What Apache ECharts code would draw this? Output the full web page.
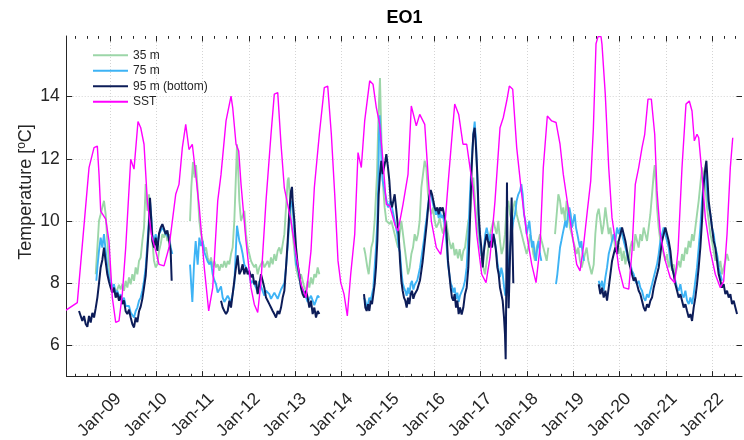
<!DOCTYPE html>
<html><head><meta charset="utf-8">
<script src="https://cdn.jsdelivr.net/npm/echarts@6/dist/echarts.min.js"></script>
<style>html,body{margin:0;padding:0;background:#fff}#c{width:744px;height:440px}</style>
</head><body><div id="c"></div>
<script>
const yearTicks = [2009,2010,2011,2012,2013,2014,2015,2016,2017,2018,2019,2020,2021,2022];
const tickLabels = ['Jan-09','Jan-10','Jan-11','Jan-12','Jan-13','Jan-14','Jan-15','Jan-16','Jan-17','Jan-18','Jan-19','Jan-20','Jan-21','Jan-22'];
const yTicks = [6,8,10,12,14];
const seriesNames = ['35 m','75 m','95 m (bottom)','SST'];

const sst = [[2008.044,7.13],[2008.294,7.38],[2008.547,11.72],[2008.655,12.36],[2008.726,12.41],[2008.763,11.5],[2008.799,10.32],[2008.907,10.06],[2008.978,9.36],[2009.050,7.54],[2009.123,6.74],[2009.194,6.79],[2009.265,7.65],[2009.339,9.15],[2009.447,11.99],[2009.518,11.67],[2009.604,13.2],[2009.663,13.0],[2009.734,12.47],[2009.805,10.65],[2009.891,9.58],[2009.986,9.04],[2010.058,8.61],[2010.166,8.56],[2010.273,9.15],[2010.345,10.0],[2010.418,10.86],[2010.489,11.18],[2010.561,12.36],[2010.634,13.11],[2010.705,12.3],[2010.776,12.47],[2010.850,11.5],[2010.927,10.43],[2011.035,8.5],[2011.130,7.11],[2011.217,7.86],[2011.325,10.65],[2011.396,11.5],[2011.504,13.22],[2011.612,14.02],[2011.648,13.65],[2011.720,12.47],[2011.778,12.25],[2011.828,11.18],[2011.935,9.36],[2012.043,7.86],[2012.115,7.32],[2012.188,7.06],[2012.259,8.07],[2012.367,10.65],[2012.475,12.79],[2012.546,14.08],[2012.620,14.13],[2012.691,12.47],[2012.762,11.07],[2012.907,10.0],[2013.015,8.93],[2013.123,7.97],[2013.230,7.54],[2013.338,9.04],[2013.410,11.07],[2013.518,12.79],[2013.625,14.29],[2013.699,14.34],[2013.777,12.79],[2013.850,10.86],[2013.921,8.72],[2013.980,8.02],[2014.051,7.65],[2014.122,6.95],[2014.195,8.29],[2014.282,9.58],[2014.353,12.2],[2014.424,11.72],[2014.497,13.22],[2014.605,14.51],[2014.677,14.4],[2014.748,13.65],[2014.821,13.11],[2014.892,11.93],[2014.964,10.54],[2015.037,10.49],[2015.145,9.9],[2015.216,9.68],[2015.324,10.54],[2015.432,11.5],[2015.503,13.7],[2015.611,13.06],[2015.685,13.43],[2015.793,13.11],[2015.864,11.5],[2015.935,10.0],[2016.043,9.15],[2016.138,8.93],[2016.224,9.79],[2016.296,11.18],[2016.367,12.47],[2016.440,13.76],[2016.526,13.43],[2016.619,12.47],[2016.699,12.47],[2016.770,11.72],[2016.842,10.97],[2016.915,9.58],[2017.023,8.29],[2017.116,8.02],[2017.202,8.83],[2017.310,10.65],[2017.418,13.0],[2017.489,13.33],[2017.562,13.86],[2017.619,14.34],[2017.692,14.24],[2017.778,12.36],[2017.886,10.86],[2017.994,9.58],[2018.102,8.61],[2018.195,8.02],[2018.281,9.15],[2018.352,11.72],[2018.439,13.38],[2018.534,13.22],[2018.627,13.17],[2018.713,12.47],[2018.784,11.5],[2018.858,10.75],[2018.966,9.68],[2019.073,8.61],[2019.145,8.4],[2019.216,9.15],[2019.302,10.32],[2019.376,11.29],[2019.432,12.95],[2019.490,15.7],[2019.533,15.93],[2019.598,15.93],[2019.619,15.68],[2019.690,14.08],[2019.764,11.72],[2019.835,10.11],[2019.907,9.36],[2019.980,8.5],[2020.088,7.86],[2020.196,7.81],[2020.267,9.04],[2020.338,11.18],[2020.411,11.72],[2020.483,12.36],[2020.541,12.79],[2020.612,13.92],[2020.684,13.92],[2020.757,12.79],[2020.806,10.97],[2020.878,9.58],[2020.986,8.72],[2021.093,8.18],[2021.188,8.02],[2021.260,9.04],[2021.346,11.72],[2021.432,13.76],[2021.504,13.86],[2021.562,13.54],[2021.612,12.58],[2021.670,12.79],[2021.707,12.68],[2021.778,11.5],[2021.849,10.11],[2021.957,9.04],[2022.065,8.29],[2022.173,7.86],[2022.246,8.07],[2022.318,9.58],[2022.389,11.72],[2022.441,12.68]];

const d95 = [[2008.331,7.11],[2008.367,6.95],[2008.403,6.79],[2008.439,6.95],[2008.475,6.69],[2008.511,6.6],[2008.547,6.95],[2008.583,6.74],[2008.619,7.05],[2008.655,6.9],[2008.691,7.2],[2008.727,7.54],[2008.762,8.0],[2008.798,8.51],[2008.834,8.75],[2008.870,9.15],[2008.906,8.7],[2008.942,8.29],[2008.978,8.05],[2009.014,7.86],[2009.050,7.7],[2009.086,7.86],[2009.122,7.54],[2009.158,7.7],[2009.194,7.44],[2009.230,7.6],[2009.266,7.33],[2009.302,7.45],[2009.338,7.1],[2009.374,7.01],[2009.410,7.15],[2009.446,6.9],[2009.482,6.69],[2009.518,6.58],[2009.554,6.9],[2009.590,6.75],[2009.626,7.1],[2009.662,7.25],[2009.698,7.5],[2009.734,7.86],[2009.770,8.25],[2009.806,9.04],[2009.842,9.9],[2009.863,10.75],[2009.892,10.0],[2009.914,9.36],[2009.950,9.15],[2009.986,9.47],[2010.022,9.04],[2010.058,9.6],[2010.094,9.79],[2010.130,9.9],[2010.166,9.75],[2010.202,9.58],[2010.238,9.7],[2010.273,9.4],[2010.309,9.04],[2010.331,8.08],
[2010.9,'-'],
[2011.396,7.44],[2011.432,7.22],[2011.468,7.11],[2011.504,7.01],[2011.540,7.11],[2011.576,7.44],[2011.611,7.22],[2011.647,7.65],[2011.683,8.08],[2011.719,8.51],[2011.755,8.9],[2011.791,8.29],[2011.827,8.4],[2011.863,8.61],[2011.899,8.29],[2011.935,8.51],[2011.971,8.29],[2012.007,8.4],[2012.043,8.19],[2012.079,8.29],[2012.115,7.97],[2012.151,8.08],[2012.187,7.65],[2012.223,7.97],[2012.259,8.29],[2012.295,8.08],[2012.331,7.86],[2012.367,7.54],[2012.403,7.44],[2012.439,7.33],[2012.475,7.22],[2012.511,7.11],[2012.547,7.01],[2012.583,6.9],[2012.619,7.11],[2012.655,7.01],[2012.691,7.22],[2012.727,7.54],[2012.763,7.76],[2012.799,8.51],[2012.835,9.36],[2012.871,10.33],[2012.907,10.97],[2012.928,11.1],[2012.943,10.65],[2012.979,10.01],[2013.015,9.15],[2013.050,8.61],[2013.086,8.29],[2013.122,7.86],[2013.158,7.65],[2013.194,7.54],[2013.230,7.76],[2013.266,7.54],[2013.302,7.22],[2013.338,7.44],[2013.374,7.01],[2013.410,7.22],[2013.446,6.9],[2013.482,7.11],[2013.518,7.01],
[2014.0,'-'],
[2014.482,7.65],[2014.511,7.22],[2014.540,7.11],[2014.568,7.33],[2014.597,7.11],[2014.626,7.44],[2014.655,7.33],[2014.684,7.65],[2014.712,7.97],[2014.741,8.51],[2014.770,9.36],[2014.799,10.86],[2014.827,11.51],[2014.856,11.94],[2014.885,11.51],[2014.914,11.72],[2014.943,11.94],[2014.964,12.15],[2015.000,11.72],[2015.029,11.3],[2015.058,10.65],[2015.086,10.44],[2015.115,10.65],[2015.144,10.86],[2015.173,10.44],[2015.202,10.01],[2015.230,9.58],[2015.259,8.72],[2015.288,8.08],[2015.317,7.76],[2015.345,7.54],[2015.374,7.44],[2015.403,7.22],[2015.432,7.54],[2015.461,7.33],[2015.489,7.65],[2015.518,7.76],[2015.547,7.5],[2015.576,7.65],[2015.604,7.7],[2015.633,7.8],[2015.662,7.95],[2015.691,8.1],[2015.720,8.4],[2015.748,8.7],[2015.777,9.1],[2015.806,9.5],[2015.835,9.9],[2015.864,10.4],[2015.892,10.8],[2015.921,11.0],[2015.950,10.86],[2015.979,10.65],[2016.007,10.44],[2016.036,10.33],[2016.065,10.44],[2016.094,10.22],[2016.123,10.44],[2016.151,10.33],[2016.180,10.44],[2016.209,10.22],[2016.238,10.01],[2016.266,9.58],[2016.295,8.72],[2016.324,8.29],[2016.353,7.86],[2016.381,7.54],[2016.410,7.44],[2016.439,7.65],[2016.468,7.22],[2016.497,7.44],[2016.525,7.01],[2016.554,7.22],[2016.590,7.0],[2016.626,7.22],[2016.662,7.65],[2016.698,7.86],[2016.734,8.51],[2016.770,10.01],[2016.806,11.72],[2016.842,12.79],[2016.871,13.0],[2016.899,12.37],[2016.928,11.51],[2016.957,10.22],[2016.986,9.58],[2017.014,9.15],[2017.043,8.51],[2017.072,9.04],[2017.101,9.36],[2017.130,9.58],[2017.158,9.36],[2017.187,9.15],[2017.216,9.36],[2017.245,9.15],[2017.274,9.58],[2017.302,9.36],[2017.331,9.04],[2017.360,8.51],[2017.389,8.29],[2017.417,7.86],[2017.446,7.65],[2017.475,7.44],[2017.504,6.9],[2017.525,6.36],[2017.540,5.56],[2017.554,8.0],[2017.568,11.24],[2017.583,8.5],[2017.604,7.2],[2017.626,8.4],[2017.648,9.6],[2017.669,10.76],[2017.691,9.0],[2017.705,8.0],
[2018.5,'-'],
[2019.548,7.97],[2019.584,7.65],[2019.620,7.86],[2019.656,7.54],[2019.692,7.76],[2019.728,7.44],[2019.764,7.86],[2019.800,8.29],[2019.836,8.72],[2019.872,8.94],[2019.908,9.15],[2019.944,8.94],[2019.980,9.36],[2020.016,9.58],[2020.052,9.79],[2020.088,9.58],[2020.124,9.36],[2020.159,9.04],[2020.195,8.72],[2020.231,8.51],[2020.267,8.29],[2020.303,8.08],[2020.339,8.19],[2020.375,7.97],[2020.411,7.76],[2020.447,7.65],[2020.483,7.44],[2020.519,7.22],[2020.555,7.11],[2020.591,7.33],[2020.627,7.22],[2020.663,7.44],[2020.699,7.54],[2020.735,7.86],[2020.771,8.08],[2020.807,8.29],[2020.843,8.51],[2020.879,8.94],[2020.915,9.36],[2020.951,9.58],[2020.987,9.79],[2021.023,9.58],[2021.059,9.36],[2021.095,9.04],[2021.131,8.51],[2021.167,8.29],[2021.203,7.97],[2021.239,7.76],[2021.275,7.54],[2021.311,7.65],[2021.347,7.44],[2021.383,7.22],[2021.419,7.33],[2021.455,7.11],[2021.491,6.9],[2021.527,7.01],[2021.563,6.79],[2021.598,7.22],[2021.634,7.54],[2021.670,7.97],[2021.706,8.51],[2021.742,9.15],[2021.778,10.01],[2021.814,11.19],[2021.850,11.72],[2021.872,11.94],[2021.893,11.4],[2021.922,10.65],[2021.958,10.22],[2021.994,9.79],[2022.030,9.36],[2022.066,9.15],[2022.102,8.72],[2022.138,8.29],[2022.174,8.08],[2022.210,7.86],[2022.246,7.97],[2022.282,7.65],[2022.318,7.76],[2022.354,7.54],[2022.390,7.65],[2022.426,7.33],[2022.462,7.44],[2022.498,7.22],[2022.534,7.01]];

const d75 = [[2008.705,8.08],[2008.727,8.51],[2008.762,9.04],[2008.798,9.47],[2008.834,9.15],[2008.870,9.58],[2008.906,9.04],[2008.942,8.51],[2008.978,8.19],[2009.014,8.03],[2009.050,7.86],[2009.086,7.97],[2009.122,7.65],[2009.158,7.76],[2009.194,7.54],[2009.230,7.65],[2009.266,7.44],[2009.302,7.54],[2009.338,7.27],[2009.374,7.22],[2009.410,7.27],[2009.446,7.06],[2009.482,7.01],[2009.518,6.9],[2009.554,7.11],[2009.590,7.22],[2009.626,7.44],[2009.662,7.54],[2009.698,7.76],[2009.734,8.08],[2009.770,8.51],[2009.806,9.26],[2009.842,10.12],[2009.863,10.65],[2009.892,10.12],[2009.914,9.58],[2009.950,9.36],[2009.986,9.58],[2010.022,9.26],[2010.058,9.58],[2010.094,9.69],[2010.130,9.79],[2010.166,9.69],[2010.202,9.58],[2010.238,9.58],[2010.273,9.47],[2010.309,9.15],[2010.345,8.94],
[2010.5,'-'],
[2010.727,8.6],[2010.755,7.9],[2010.777,7.4],[2010.813,8.6],[2010.849,9.36],[2010.892,8.6],[2010.928,9.47],[2010.964,9.2],[2011.000,9.36],[2011.036,9.0],[2011.072,9.04],[2011.108,8.7],[2011.144,8.61],[2011.180,8.7],[2011.216,8.29],[2011.252,8.1],[2011.288,7.97],[2011.324,7.7],[2011.360,7.76],[2011.396,7.9],[2011.432,7.54],[2011.468,7.4],[2011.504,7.44],[2011.540,7.6],[2011.576,7.54],[2011.611,7.4],[2011.647,7.65],[2011.683,8.0],[2011.719,9.15],[2011.741,9.85],[2011.791,9.36],[2011.827,9.2],[2011.863,8.94],[2011.899,8.6],[2011.935,8.51],[2011.971,8.4],[2012.007,8.29],[2012.043,8.0],[2012.079,8.08],[2012.115,8.1],[2012.151,7.86],[2012.187,7.7],[2012.223,8.08],[2012.259,7.9],[2012.295,7.86],[2012.331,7.6],[2012.367,7.76],[2012.403,7.8],[2012.439,7.65],[2012.475,7.5],[2012.511,7.54],[2012.547,7.7],[2012.583,7.65],[2012.619,7.5],[2012.655,7.65],[2012.691,7.8],[2012.727,7.76],[2012.763,8.0],[2012.799,8.51],[2012.835,9.2],[2012.871,10.01],[2012.907,10.65],[2012.943,10.44],[2012.979,9.58],[2013.015,8.61],[2013.050,8.5],[2013.086,8.19],[2013.122,7.9],[2013.158,7.86],[2013.194,7.7],[2013.230,7.65],[2013.266,7.4],[2013.302,7.44],[2013.338,7.6],[2013.374,7.54],[2013.410,7.3],[2013.446,7.44],[2013.482,7.6],[2013.518,7.54],
[2014.0,'-'],
[2014.482,7.54],[2014.511,7.44],[2014.540,7.22],[2014.568,7.33],[2014.597,7.54],[2014.626,7.44],[2014.655,7.65],[2014.684,7.86],[2014.712,8.51],[2014.741,9.15],[2014.770,10.01],[2014.792,11.4],[2014.806,12.79],[2014.820,13.4],[2014.842,12.79],[2014.863,11.72],[2014.885,11.3],[2014.914,11.08],[2014.943,10.86],[2014.971,10.65],[2015.000,10.44],[2015.029,10.44],[2015.058,10.65],[2015.086,10.44],[2015.115,10.22],[2015.144,10.01],[2015.173,9.79],[2015.202,9.58],[2015.230,9.15],[2015.259,9.0],[2015.288,8.4],[2015.317,8.0],[2015.345,7.86],[2015.374,7.75],[2015.403,7.6],[2015.432,7.86],[2015.461,7.65],[2015.489,7.97],[2015.518,8.08],[2015.547,7.8],[2015.576,7.95],[2015.604,8.0],[2015.633,8.1],[2015.662,8.3],[2015.691,8.5],[2015.720,8.8],[2015.748,9.1],[2015.777,9.4],[2015.806,9.8],[2015.835,10.1],[2015.864,10.5],[2015.892,10.8],[2015.921,10.9],[2015.950,10.7],[2015.979,10.5],[2016.007,10.4],[2016.036,10.2],[2016.065,10.35],[2016.094,10.1],[2016.123,10.3],[2016.151,10.1],[2016.180,10.2],[2016.209,10.0],[2016.238,9.7],[2016.266,9.2],[2016.295,8.6],[2016.324,8.3],[2016.353,8.0],[2016.381,7.9],[2016.410,7.7],[2016.439,7.86],[2016.468,7.5],[2016.497,7.7],[2016.525,7.4],[2016.554,7.6],[2016.590,7.65],[2016.626,7.86],[2016.662,8.08],[2016.698,8.51],[2016.734,9.58],[2016.770,10.86],[2016.806,11.94],[2016.842,12.79],[2016.871,13.2],[2016.899,12.58],[2016.928,11.3],[2016.957,10.01],[2016.986,9.36],[2017.014,8.94],[2017.043,8.72],[2017.072,9.15],[2017.101,9.58],[2017.130,9.79],[2017.158,9.58],[2017.187,9.36],[2017.216,9.58],[2017.245,9.15],[2017.274,9.6],[2017.302,9.4],[2017.331,9.1],[2017.360,8.7],[2017.389,8.4],[2017.417,8.2],[2017.446,8.5],[2017.475,8.3],[2017.504,7.9],[2017.532,7.6],[2017.561,7.86],[2017.597,8.51],[2017.633,9.15],[2017.669,9.58],[2017.705,10.01],[2017.741,10.22],[2017.777,10.65],[2017.813,10.86],[2017.849,10.97],[2017.878,11.19],[2017.907,10.86],[2017.935,10.22],[2017.964,10.01],[2017.993,9.58],[2018.022,9.79],[2018.051,10.01],[2018.079,9.58],[2018.108,9.15],[2018.137,9.36],[2018.166,8.94],[2018.194,8.72],[2018.223,9.15],[2018.252,9.36],[2018.281,8.94],[2018.310,8.72],
[2018.45,'-'],
[2018.626,7.97],[2018.655,8.29],[2018.684,8.72],[2018.713,9.15],[2018.741,9.36],[2018.770,9.58],[2018.799,9.79],[2018.828,10.01],[2018.856,9.79],[2018.885,10.22],[2018.914,10.44],[2018.943,10.22],[2018.972,9.79],[2019.000,10.01],[2019.029,10.22],[2019.058,9.79],[2019.087,9.58],[2019.115,9.36],[2019.144,9.15],[2019.173,9.36],[2019.202,8.94],[2019.230,8.72],
[2019.4,'-'],
[2019.548,8.08],[2019.584,7.86],[2019.620,8.08],[2019.656,7.76],[2019.692,8.19],[2019.728,8.51],[2019.764,8.94],[2019.800,9.15],[2019.836,9.36],[2019.872,9.58],[2019.908,9.36],[2019.944,9.79],[2019.980,9.58],[2020.016,9.79],[2020.052,9.58],[2020.088,9.36],[2020.124,9.15],[2020.159,8.94],[2020.195,8.72],[2020.231,8.61],[2020.267,8.4],[2020.303,8.29],[2020.339,8.08],[2020.375,7.97],[2020.411,8.08],[2020.447,7.86],[2020.483,7.76],[2020.519,7.54],[2020.555,7.44],[2020.591,7.65],[2020.627,7.54],[2020.663,7.76],[2020.699,7.97],[2020.735,8.19],[2020.771,8.4],[2020.807,8.61],[2020.843,8.94],[2020.879,9.36],[2020.915,9.58],[2020.951,9.79],[2020.987,9.58],[2021.023,9.36],[2021.059,9.15],[2021.095,8.72],[2021.131,8.51],[2021.167,8.29],[2021.203,8.08],[2021.239,7.86],[2021.275,7.76],[2021.311,7.97],[2021.347,7.65],[2021.383,7.54],[2021.419,7.76],[2021.455,7.44],[2021.491,7.33],[2021.527,7.54],[2021.563,7.33],[2021.598,7.65],[2021.634,8.08],[2021.670,8.51],[2021.706,9.15],[2021.742,9.79],[2021.778,10.65],[2021.814,11.3],[2021.850,11.6],[2021.886,11.0],[2021.922,10.44],[2021.958,10.22],[2021.994,9.79],[2022.030,9.58],[2022.066,9.15],[2022.102,8.94],[2022.138,8.51],[2022.174,8.29],[2022.210,8.08]];

const d35 = [[2008.691,8.29],[2008.727,9.15],[2008.762,10.01],[2008.798,10.22],[2008.834,10.44],[2008.870,10.65],[2008.906,10.22],[2008.942,9.36],[2008.978,8.61],[2009.014,8.08],[2009.050,7.86],[2009.086,7.9],[2009.122,7.7],[2009.158,7.8],[2009.194,7.95],[2009.230,7.8],[2009.266,7.97],[2009.302,7.76],[2009.338,8.08],[2009.374,7.86],[2009.410,8.19],[2009.446,7.97],[2009.482,8.29],[2009.518,8.08],[2009.554,8.51],[2009.590,8.29],[2009.626,8.72],[2009.662,8.83],[2009.698,9.36],[2009.734,9.79],[2009.770,11.19],[2009.806,10.33],[2009.842,10.86],[2009.878,10.01],[2009.914,9.36],[2009.950,8.72],[2009.986,8.51],[2010.022,8.61],[2010.058,9.04],[2010.094,9.26],[2010.130,9.58],[2010.166,9.47],[2010.202,9.69],[2010.238,9.36],[2010.273,9.58],[2010.309,9.15],
[2010.5,'-'],
[2010.727,10.0],[2010.755,11.1],[2010.791,11.9],[2010.827,11.4],[2010.856,11.8],[2010.892,10.97],[2010.928,10.01],[2010.964,9.58],[2011.000,9.36],[2011.036,9.04],[2011.072,9.15],[2011.108,8.83],[2011.144,8.61],[2011.180,8.83],[2011.216,8.51],[2011.252,8.72],[2011.288,8.51],[2011.324,8.61],[2011.360,8.4],[2011.396,8.61],[2011.432,8.51],[2011.468,8.72],[2011.504,8.51],[2011.540,8.72],[2011.576,8.61],[2011.611,8.94],[2011.647,9.15],[2011.683,10.01],[2011.719,11.51],[2011.741,12.47],[2011.770,11.51],[2011.791,10.65],[2011.827,10.01],[2011.863,10.01],[2011.899,10.33],[2011.935,9.58],[2011.971,9.15],[2012.007,8.94],[2012.043,8.72],[2012.079,8.61],[2012.115,8.51],[2012.151,8.61],[2012.187,8.29],[2012.223,8.51],[2012.259,8.61],[2012.295,8.72],[2012.331,8.51],[2012.367,8.61],[2012.403,8.72],[2012.439,8.51],[2012.475,8.83],[2012.511,8.61],[2012.547,8.94],[2012.583,8.72],[2012.619,9.04],[2012.655,9.15],[2012.691,8.94],[2012.727,9.26],[2012.763,9.58],[2012.799,10.44],[2012.835,11.3],[2012.856,11.4],[2012.885,10.65],[2012.907,10.01],[2012.943,9.58],[2012.979,9.04],[2013.015,8.51],[2013.050,8.29],[2013.086,8.08],[2013.122,8.29],[2013.158,8.08],[2013.194,7.86],[2013.230,7.76],[2013.266,8.08],[2013.302,7.86],[2013.338,8.19],[2013.374,7.97],[2013.410,8.29],[2013.446,8.19],[2013.482,8.51],[2013.518,8.29],
[2014.0,'-'],
[2014.482,9.15],[2014.511,8.94],[2014.554,8.51],[2014.583,8.29],[2014.612,8.72],[2014.640,9.15],[2014.676,9.36],[2014.712,10.01],[2014.734,10.65],[2014.763,11.51],[2014.784,12.79],[2014.806,13.87],[2014.827,14.6],[2014.849,13.22],[2014.871,11.94],[2014.892,11.19],[2014.928,10.44],[2014.964,10.01],[2015.000,10.01],[2015.036,9.9],[2015.072,10.01],[2015.108,9.79],[2015.144,9.58],[2015.180,9.36],[2015.216,9.15],[2015.252,9.58],[2015.288,10.01],[2015.324,9.58],[2015.360,9.15],[2015.396,8.72],[2015.432,8.29],[2015.468,8.51],[2015.504,8.94],[2015.540,9.15],[2015.576,9.58],[2015.612,9.36],[2015.648,9.58],[2015.684,10.01],[2015.720,11.08],[2015.756,11.51],[2015.792,11.94],[2015.828,11.72],[2015.864,10.86],[2015.900,10.44],[2015.936,10.22],[2015.972,10.44],[2016.007,10.01],[2016.043,9.79],[2016.079,9.9],[2016.115,10.1],[2016.151,9.8],[2016.187,9.6],[2016.223,9.9],[2016.259,10.0],[2016.295,9.6],[2016.331,9.3],[2016.367,9.1],[2016.403,9.3],[2016.439,8.9],[2016.475,9.1],[2016.511,8.8],[2016.547,9.1],[2016.590,8.72],[2016.626,9.04],[2016.662,9.15],[2016.698,9.58],[2016.734,10.01],[2016.770,10.22],[2016.806,10.86],[2016.842,11.4],[2016.878,10.65],[2016.914,10.01],[2016.950,9.58],[2016.986,9.15],[2017.022,8.94],[2017.058,8.51],[2017.094,8.29],[2017.130,8.72],[2017.166,9.15],[2017.202,9.58],[2017.238,9.79],[2017.274,10.01],[2017.309,9.79],[2017.345,9.58],[2017.381,10.01],[2017.417,9.36],[2017.453,8.94],[2017.489,9.15],[2017.525,9.58],[2017.561,10.44],[2017.597,10.65],[2017.633,10.22],[2017.669,10.01],[2017.705,10.44],[2017.741,10.65],[2017.777,10.22],[2017.813,10.01],[2017.849,9.79],[2017.885,9.58],[2017.921,9.36],[2017.957,9.15],[2017.993,8.94],[2018.029,9.15],[2018.065,9.58],[2018.101,9.36],[2018.137,8.94],[2018.173,8.72],[2018.209,9.15],[2018.245,9.36],[2018.281,9.58],[2018.317,9.36],[2018.353,9.15],[2018.389,8.94],[2018.425,8.72],[2018.461,9.15],
[2018.53,'-'],
[2018.605,9.58],[2018.641,10.22],[2018.677,10.86],[2018.713,10.65],[2018.748,10.22],[2018.784,10.44],[2018.820,10.01],[2018.856,10.65],[2018.892,10.22],[2018.928,9.79],[2018.964,9.58],[2019.000,9.36],[2019.036,9.15],[2019.072,8.94],[2019.108,9.15],[2019.144,8.72],[2019.180,8.51],[2019.216,8.72],[2019.252,8.94],[2019.288,9.15],[2019.324,8.72],[2019.360,8.51],[2019.396,8.29],[2019.440,8.6],[2019.476,9.6],[2019.512,10.2],[2019.548,10.4],[2019.584,10.01],[2019.620,9.58],[2019.656,9.9],[2019.692,10.44],[2019.728,10.01],[2019.764,9.58],[2019.800,9.79],[2019.836,9.36],[2019.872,9.58],[2019.908,9.04],[2019.944,9.36],[2019.980,8.94],[2020.016,9.15],[2020.052,8.72],[2020.088,9.04],[2020.124,8.61],[2020.159,8.94],[2020.195,8.72],[2020.231,9.15],[2020.267,9.36],[2020.303,9.04],[2020.339,9.58],[2020.375,9.36],[2020.411,9.15],[2020.447,9.58],[2020.483,9.36],[2020.519,9.79],[2020.555,9.58],[2020.591,9.36],[2020.627,9.79],[2020.663,10.22],[2020.699,10.86],[2020.735,11.51],[2020.757,11.8],[2020.785,11.19],[2020.807,10.44],[2020.843,9.79],[2020.879,9.36],[2020.915,9.15],[2020.951,8.94],[2020.987,8.72],[2021.023,8.94],[2021.059,8.51],[2021.095,8.72],[2021.131,8.4],[2021.167,8.61],[2021.203,8.29],[2021.239,8.51],[2021.275,8.72],[2021.311,8.51],[2021.347,8.94],[2021.383,8.72],[2021.419,9.15],[2021.455,8.94],[2021.491,9.36],[2021.527,9.15],[2021.563,9.58],[2021.598,9.36],[2021.634,9.79],[2021.670,10.22],[2021.706,10.65],[2021.742,11.19],[2021.778,11.72],[2021.814,11.5],[2021.850,11.1],[2021.886,10.44],[2021.922,10.01],[2021.958,9.58],[2021.994,9.36],[2022.030,9.04],[2022.066,8.72],[2022.102,8.94],[2022.138,8.51],[2022.174,8.72],[2022.210,8.29],[2022.246,8.51],[2022.282,8.72],[2022.318,8.94],[2022.354,8.72]];

const colors = {c35:'#9cd6a8', c75:'#3db3f5', c95:'#0c1c58', sst:'#ff00ff'};

const quarterTicks = [];
for (let y = 2008; y <= 2022; y++) { quarterTicks.push(y + 0.25, y + 0.5, y + 0.75); }

const FONT = '"Liberation Sans", Arial, Helvetica, sans-serif';
const xMin = 2008.065, xMax = 2022.641, yMin = 5, yMax = 15.95;
const tickColor = '#262626';

function xAxisBase(pos, custom, len, showLabel, showLine, split) {
  return {
    type: 'value', min: xMin, max: xMax, position: pos, gridIndex: 0,
    axisLine: {show: showLine, lineStyle: {color: tickColor, width: 1}},
    axisTick: {show: true, inside: true, length: len, customValues: custom, lineStyle: {color: tickColor, width: 1}},
    axisLabel: showLabel ? {
      show: true, customValues: custom, rotate: 45, margin: 11, verticalAlign: 'top', padding: [3, 0, 0, 0],
      fontFamily: FONT, fontSize: 17.5, color: tickColor,
      formatter: v => tickLabels[yearTicks.indexOf(Math.round(v))] || ''
    } : {show: false},
    splitLine: split ? {show: true, lineStyle: {color: '#d4d4d4', type: [1, 2], width: 1}} : {show: false},
    minorTick: {show: false}
  };
}

const chart = echarts.init(document.getElementById('c'), null, {renderer: 'canvas', width: 744, height: 440});
chart.setOption({
  animation: false,
  backgroundColor: '#ffffff',
  grid: {left: 66.7, right: 2, top: 36, bottom: 63.4, containLabel: false, outerBoundsMode: 'none'},
  xAxis: [
    xAxisBase('bottom', yearTicks, 5.5, true, true, true),
    xAxisBase('bottom', quarterTicks, 2.8, false, false, false),
    xAxisBase('top', yearTicks, 5.5, false, false, false),
    xAxisBase('top', quarterTicks, 2.8, false, false, false)
  ],
  yAxis: [
    {
      type: 'value', min: yMin, max: yMax, position: 'left',
      axisLine: {show: true, lineStyle: {color: tickColor, width: 1}},
      axisTick: {show: true, inside: true, length: 5.5, customValues: yTicks, lineStyle: {color: tickColor}},
      axisLabel: {show: true, customValues: yTicks, margin: 7, fontFamily: FONT, fontSize: 17.5, color: tickColor},
      splitLine: {show: true, lineStyle: {color: '#d4d4d4', type: [1, 2], width: 1}}
    },
    {
      type: 'value', min: yMin, max: yMax, position: 'right',
      axisLine: {show: false},
      axisTick: {show: true, inside: true, length: 5.5, customValues: yTicks, lineStyle: {color: tickColor}},
      axisLabel: {show: false},
      splitLine: {show: false}
    }
  ],
  legend: {
    orient: 'vertical', left: 93, top: 47.5, padding: 0, itemGap: 0,
    itemWidth: 35, itemHeight: 2, icon: 'rect',
    itemStyle: {borderWidth: 0},
    textStyle: {fontFamily: FONT, fontSize: 12, color: tickColor, lineHeight: 15.5},
    data: seriesNames
  },
  graphic: [
    {type: 'text', x: 404.5, y: 18, silent: true,
     style: {text: 'EO1', font: 'bold 18px ' + FONT, fill: '#000', textAlign: 'center', textVerticalAlign: 'middle'}},
    {type: 'text', x: 26, y: 192, rotation: Math.PI / 2, silent: true,
     style: {text: 'Temperature [{s|o}C]', font: '18px ' + FONT, fill: tickColor,
       textAlign: 'center', textVerticalAlign: 'middle',
       rich: {s: {fontSize: 12, fontFamily: FONT, fill: tickColor, verticalAlign: 'top', lineHeight: 20}}}}
  ],
  series: [
    {name: seriesNames[0], type: 'line', data: d35, symbol: 'none', connectNulls: false, clip: true,
     lineStyle: {color: colors.c35, width: 1.9}, itemStyle: {color: colors.c35}, z: 2},
    {name: seriesNames[1], type: 'line', data: d75, symbol: 'none', connectNulls: false, clip: true,
     lineStyle: {color: colors.c75, width: 1.9}, itemStyle: {color: colors.c75}, z: 3},
    {name: seriesNames[2], type: 'line', data: d95, symbol: 'none', connectNulls: false, clip: true,
     lineStyle: {color: colors.c95, width: 2}, itemStyle: {color: colors.c95}, z: 4},
    {name: seriesNames[3], type: 'line', data: sst, symbol: 'none', connectNulls: false, clip: true,
     lineStyle: {color: colors.sst, width: 1.4}, itemStyle: {color: colors.sst}, z: 5}
  ]
});
</script></body></html>
